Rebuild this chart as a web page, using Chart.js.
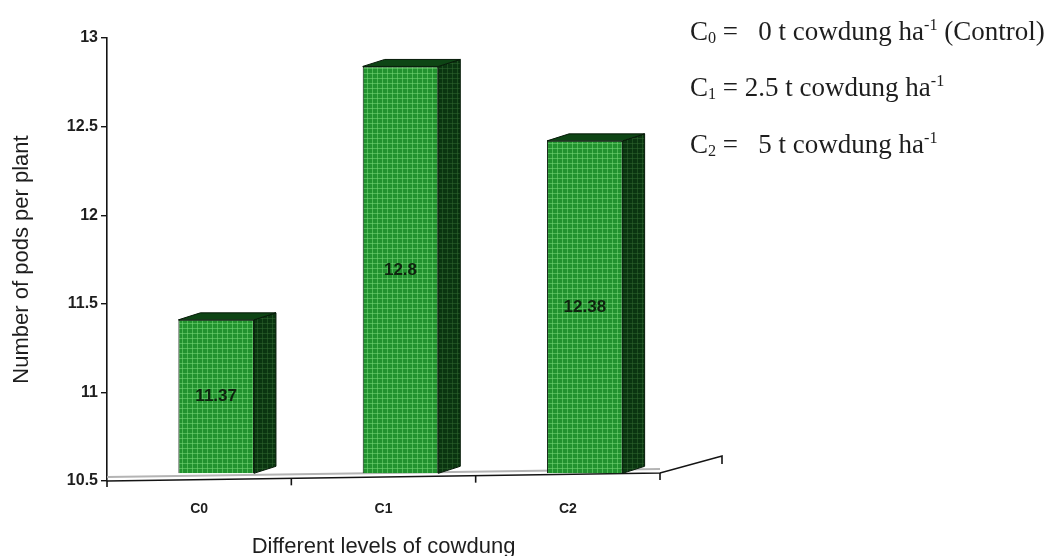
<!DOCTYPE html>
<html>
<head>
<meta charset="utf-8">
<script src="https://cdn.jsdelivr.net/npm/chart.js@4.4.1/dist/chart.umd.min.js"></script>
<style>
  html, body { margin: 0; padding: 0; background: #fff; }
  #wrap { position: relative; width: 1055px; height: 556px; overflow: hidden; }
  #c { position: absolute; left: 0; top: 0; }
  .key {
    position: absolute; left: 690px;
    font-family: "Liberation Serif", "Times New Roman", serif;
    font-size: 27px; color: #1e1e1e; white-space: pre; line-height: 1;
  }
  .key sub { font-size: 0.6em; vertical-align: -0.2em; line-height: 0; }
  .key sup { font-size: 0.6em; vertical-align: 0.62em; line-height: 0; }
</style>
</head>
<body>
<div id="wrap">
  <canvas id="c" width="1055" height="556"></canvas>
  <div class="key" style="top:18px">C<sub>0</sub> =   0 t cowdung ha<sup>-1</sup> (Control)</div>
  <div class="key" style="top:74px">C<sub>1</sub> = 2.5 t cowdung ha<sup>-1</sup></div>
  <div class="key" style="top:131px">C<sub>2</sub> =   5 t cowdung ha<sup>-1</sup></div>
</div>
<script>
// Cowdung levels and mean number of pods per plant
const categories = ['C0', 'C1', 'C2'];
const podsPerPlant = [11.37, 12.8, 12.38];
const yTicks = [10.5, 11, 11.5, 12, 12.5, 13];

const SANS = '"Liberation Sans", Arial, sans-serif';

// Small tiled grid texture for the bar faces
function gridPattern(base, line, size) {
  const t = document.createElement('canvas');
  t.width = size; t.height = size;
  const g = t.getContext('2d');
  g.fillStyle = base;
  g.fillRect(0, 0, size, size);
  g.fillStyle = line;
  g.fillRect(0, 0, size, 1);
  g.fillRect(0, 0, 1, size);
  const ctx = document.getElementById('c').getContext('2d');
  return ctx.createPattern(t, 'repeat');
}

const frontFill = gridPattern('#22922f', 'rgba(120,215,120,0.55)', 5);
const sideFill = gridPattern('#0a3510', 'rgba(50,105,50,0.5)', 5);
const topFill = '#0e4515';

// 3D look: bars sit half-way into the floor depth, side/top faces recede up-right
const bar3d = {
  id: 'bar3d',
  beforeDatasetsDraw(chart, args, opts) {
    const { ctx, chartArea, scales } = chart;
    const x = scales.x;
    const left = chartArea.left, right = chartArea.right, y0 = chartArea.bottom;
    const floorY = px => y0 - opts.floorRise * (px - left) / (right - left);

    ctx.save();
    // light back edge of the floor
    ctx.strokeStyle = '#b4b4b4';
    ctx.lineWidth = 2;
    ctx.beginPath();
    ctx.moveTo(left, y0 - 4);
    ctx.lineTo(right, floorY(right) - 4);
    ctx.stroke();
    // front edge of the floor and its receding right side
    ctx.strokeStyle = '#141414';
    ctx.lineWidth = 1.6;
    ctx.beginPath();
    ctx.moveTo(left, y0);
    ctx.lineTo(right, floorY(right));
    ctx.lineTo(right + opts.sideDx, floorY(right) + opts.sideDy);
    ctx.lineTo(right + opts.sideDx, floorY(right) + opts.sideDy + 8);
    ctx.stroke();
    // y axis runs a little below the floor
    ctx.beginPath();
    ctx.moveTo(left, y0);
    ctx.lineTo(left, y0 + 6);
    ctx.stroke();
    // category boundary ticks hanging from the floor
    const step = x.getPixelForValue(1) - x.getPixelForValue(0);
    for (let i = 0; i < categories.length; i++) {
      const xb = x.getPixelForValue(i) + step / 2;
      ctx.beginPath();
      ctx.moveTo(xb, floorY(xb));
      ctx.lineTo(xb, floorY(xb) + 7);
      ctx.stroke();
    }
    ctx.restore();

    ctx.save();
    ctx.translate(opts.shiftX, opts.shiftY);
  },
  afterDatasetsDraw(chart, args, opts) {
    const { ctx, chartArea } = chart;
    const meta = chart.getDatasetMeta(0);
    const dx = opts.depthX, dy = opts.depthY;
    meta.data.forEach((bar, i) => {
      const { x, y, width } = bar.getProps(['x', 'y', 'width'], true);
      const base = Math.min(bar.base, chartArea.bottom);
      const l = x - width / 2, r = x + width / 2;
      ctx.lineWidth = 1;
      ctx.strokeStyle = '#061a08';
      // side face
      ctx.beginPath();
      ctx.moveTo(r, y);
      ctx.lineTo(r + dx, y + dy);
      ctx.lineTo(r + dx, base + dy);
      ctx.lineTo(r, base);
      ctx.closePath();
      ctx.fillStyle = sideFill;
      ctx.fill();
      ctx.stroke();
      // top face
      ctx.beginPath();
      ctx.moveTo(l, y);
      ctx.lineTo(l + dx, y + dy);
      ctx.lineTo(r + dx, y + dy);
      ctx.lineTo(r, y);
      ctx.closePath();
      ctx.fillStyle = topFill;
      ctx.fill();
      ctx.stroke();
      // value label in the middle of the front face
      ctx.fillStyle = '#0f230f';
      ctx.font = 'bold 17px ' + SANS;
      ctx.textAlign = 'center';
      ctx.textBaseline = 'middle';
      ctx.fillText(String(podsPerPlant[i]), x, (y + base) / 2);
    });
    ctx.restore();
  }
};

new Chart(document.getElementById('c'), {
  type: 'bar',
  data: {
    labels: categories,
    datasets: [{
      data: podsPerPlant,
      base: yTicks[0],
      backgroundColor: frontFill,
      borderColor: '#061a08',
      borderWidth: 1,
      categoryPercentage: 1,
      barPercentage: 0.41
    }]
  },
  options: {
    responsive: false,
    devicePixelRatio: 1,
    animation: false,
    events: [],
    layout: { padding: { top: 38, right: 395, left: 0, bottom: 0 } },
    plugins: {
      legend: { display: false },
      tooltip: { enabled: false },
      bar3d: { shiftX: 17, shiftY: -7, depthX: 22, depthY: -7, floorRise: 8, sideDx: 62, sideDy: -17 }
    },
    scales: {
      x: {
        afterFit: s => { s.height = 75; },
        grid: { display: false },
        border: { display: false },
        ticks: {
          padding: 12,
          color: '#1e1e1e',
          font: { family: SANS, size: 14, weight: 'bold' }
        },
        title: {
          display: true,
          text: 'Different levels of cowdung',
          color: '#1e1e1e',
          padding: { top: 0, bottom: -2 },
          font: { family: SANS, size: 22, lineHeight: 1 }
        }
      },
      y: {
        min: yTicks[0],
        max: yTicks[yTicks.length - 1],
        afterFit: s => { s.width = 107; },
        afterBuildTicks: s => { s.ticks = yTicks.map(v => ({ value: v })); },
        grid: { drawOnChartArea: false, tickLength: 6, color: '#141414', lineWidth: 1.4 },
        border: { display: true, color: '#141414', width: 1.6 },
        ticks: {
          padding: 3,
          color: '#1e1e1e',
          callback: v => String(v),
          font: { family: SANS, size: 16, weight: 'bold' }
        },
        title: {
          display: true,
          text: 'Number of pods per plant',
          color: '#1e1e1e',
          padding: { top: 11, bottom: 0 },
          font: { family: SANS, size: 22, lineHeight: 1 }
        }
      }
    }
  },
  plugins: [bar3d]
});
</script>
</body>
</html>
